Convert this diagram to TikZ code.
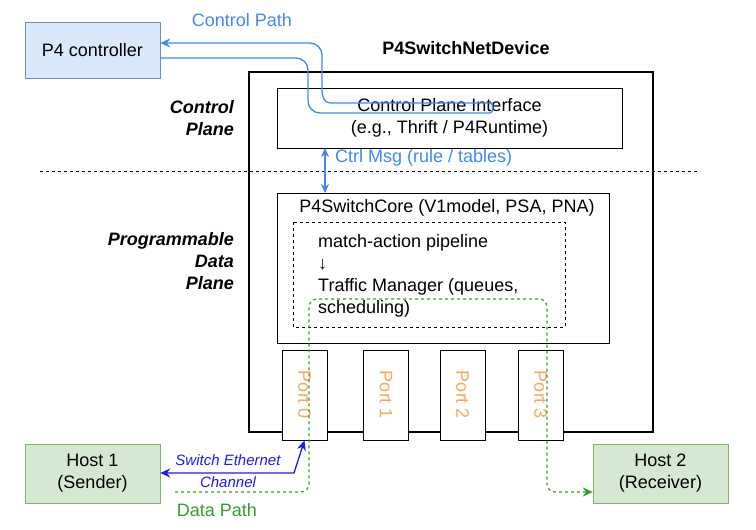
\documentclass[tikz,border=0pt]{standalone}
\usepackage{fontspec}
\setmainfont{Liberation Sans}
\usetikzlibrary{arrows.meta}
\definecolor{cblue}{HTML}{3D8AF7}
\definecolor{eblue}{HTML}{1A1AFF}
\definecolor{dgreen}{HTML}{33A02C}
\definecolor{porto}{HTML}{F5A95A}
\definecolor{bfill}{HTML}{DAE8FC}
\definecolor{bdraw}{HTML}{6C8EBF}
\definecolor{gfill}{HTML}{D5E8D4}
\definecolor{gdraw}{HTML}{82B366}
\begin{document}
\begin{tikzpicture}[x=1pt,y=-1pt,
  box/.style={draw,line width=0.9pt},
  txt/.style={font=\fontsize{18}{20}\selectfont,align=center,inner sep=0},
  bi/.style={font=\fontsize{18}{20}\selectfont\bfseries\itshape,align=right,inner sep=0,anchor=east},
  port/.style={draw,line width=0.9pt,fill=white,minimum width=45pt,minimum height=90pt,inner sep=0}]
\useasboundingbox (0,0) rectangle (756,530);
\node[draw=bdraw,fill=bfill,minimum width=135pt,minimum height=56pt,font=\fontsize{18}{20}\selectfont] (ctl) at (92.5,50) {P4 controller};
\node[txt,text=cblue] (cpl) at (242,20) {Control Path};
\node[txt,font=\fontsize{18}{20}\selectfont\bfseries] (title) at (466,48) {P4SwitchNetDevice};
\draw[line width=1.8pt] (249,72) rectangle (653,432);
\node[box,minimum width=345pt,minimum height=60pt,txt] (cpi) at (449.5,118) {Control Plane Interface\\[2pt](e.g., Thrift / P4Runtime)};
\node[bi] (cp) at (234,118) {Control\\[2pt]Plane};
\draw[dashed,line width=0.9pt] (40,171) -- (700,171);
\node[box,minimum width=332pt,minimum height=150pt] (core) at (443,268) {};
\node[txt,anchor=north] (coret) at (447,199) {P4SwitchCore (V1model, PSA, PNA)};
\draw[dashed,line width=0.9pt] (293,222) rectangle (565,327);
\node[txt,anchor=west] (m1) at (318,243) {match-action pipeline};
\node[txt,anchor=west] (m2) at (318,265) {↓};
\node[txt,anchor=west] (m3) at (318,287) {Traffic Manager (queues,};
\node[txt,anchor=west] (m4) at (318,309) {scheduling)};
\node[bi] (pdp) at (234,261) {Programmable\\[2pt]Data\\[2pt]Plane};
\draw[cblue,line width=1.3pt,{Stealth[length=9pt,width=8pt]}-{Stealth[length=9pt,width=8pt]}] (325,148) -- (325,193);
\node[txt,text=cblue,anchor=west] (cm) at (335,158) {Ctrl Msg (rule / tables)};
\foreach \i/\x in {0/304.5,1/386,2/462.5,3/540.5}
  \node[port] (p\i) at (\x,395) {\rotatebox{-90}{\textcolor{porto}{\fontsize{18}{20}\selectfont Port \i}}};
\node[draw=gdraw,fill=gfill,minimum width=135pt,minimum height=59pt,txt] (h1) at (92.5,473.5) {Host 1\\[2pt](Sender)};
\node[draw=gdraw,fill=gfill,minimum width=135pt,minimum height=59pt,txt] (h2) at (660.5,473.5) {Host 2\\[2pt](Receiver)};
% control path
\draw[cblue,line width=1.3pt,-{Stealth[length=10pt,width=9pt]}] (493,103) -- (330,103) to[out=180,in=-90] (322,90) -- (322,55) to[out=90,in=0] (310,43) -- (ctl.east |- 0,43);
\draw[cblue,line width=1.3pt] (ctl.east |- 0,58) -- (296,58) to[out=0,in=90] (308,70) -- (308,101) to[out=-90,in=180] (320,113) -- (490,113) to[out=0,in=0] (490,103);
% ethernet channel
\draw[eblue,line width=1.3pt,{Stealth[length=10pt,width=9pt]}-{Stealth[length=10pt,width=9pt]}] (h1.east |- 0,473) -- (294,473) -- (p0.south);
\node[txt,text=eblue,font=\fontsize{15}{17}\selectfont\itshape] (se) at (228,460) {Switch Ethernet};
\node[txt,text=eblue,font=\fontsize{15}{17}\selectfont\itshape] (ch) at (228,482) {Channel};
% data path
\draw[dgreen,dashed,line width=1.2pt,-{Stealth[length=10pt,width=9pt]},rounded corners=8pt] (175,492) -- (309,492) -- (309,299) -- (547,299) -- (547,492) -- (h2.west |- 0,492);
\node[txt,text=dgreen] (dp) at (217,510) {Data Path};
\end{tikzpicture}
\end{document}
